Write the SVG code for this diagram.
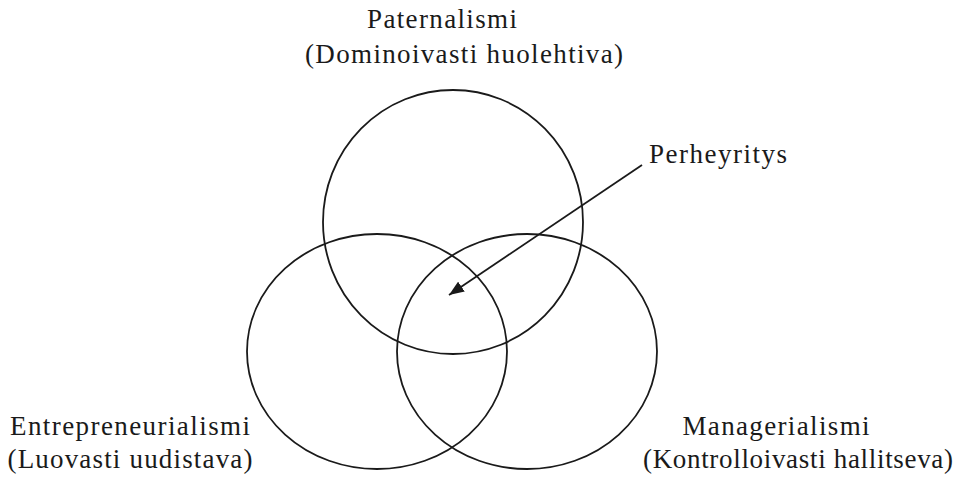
<svg xmlns="http://www.w3.org/2000/svg" width="959" height="478" viewBox="0 0 959 478">
<style>
.c{fill:none;stroke:#1a1a1a;stroke-width:1.8}
.t{font-family:"Liberation Serif","DejaVu Serif",serif;font-size:27px;fill:#1a1a1a}
.m{text-anchor:middle}
</style>
<defs>
<marker id="ah2" viewBox="0 0 15 12" refX="15" refY="6" markerWidth="15" markerHeight="12" markerUnits="userSpaceOnUse" orient="auto">
<path d="M0,0 L15,6 L0,12 z" fill="#1a1a1a"/>
</marker>
</defs>
<rect width="959" height="478" fill="#fff"/>
<g id="paternalismi">
<ellipse class="c" cx="453" cy="222" rx="130" ry="132"/>
<text class="t m" x="442" y="28" textLength="150">Paternalismi</text>
<text class="t m" x="464" y="63" textLength="318">(Dominoivasti huolehtiva)</text>
</g>
<g id="entrepreneurialismi">
<ellipse class="c" cx="377" cy="351.5" rx="130" ry="117.5"/>
<text class="t m" x="130" y="435" textLength="240">Entrepreneurialismi</text>
<text class="t m" x="130" y="468" textLength="245">(Luovasti uudistava)</text>
</g>
<g id="managerialismi">
<ellipse class="c" cx="527" cy="351.5" rx="130" ry="117.5"/>
<text class="t m" x="776" y="435" textLength="187">Managerialismi</text>
<text class="t m" x="798" y="468" textLength="310">(Kontrolloivasti hallitseva)</text>
</g>
<g id="perheyritys">
<text class="t" x="649" y="163" textLength="138">Perheyritys</text>
</g>
<g id="connectors">
<line x1="642" y1="165" x2="449" y2="295" stroke="#1a1a1a" stroke-width="1.8" marker-end="url(#ah2)"/>
</g>
</svg>
